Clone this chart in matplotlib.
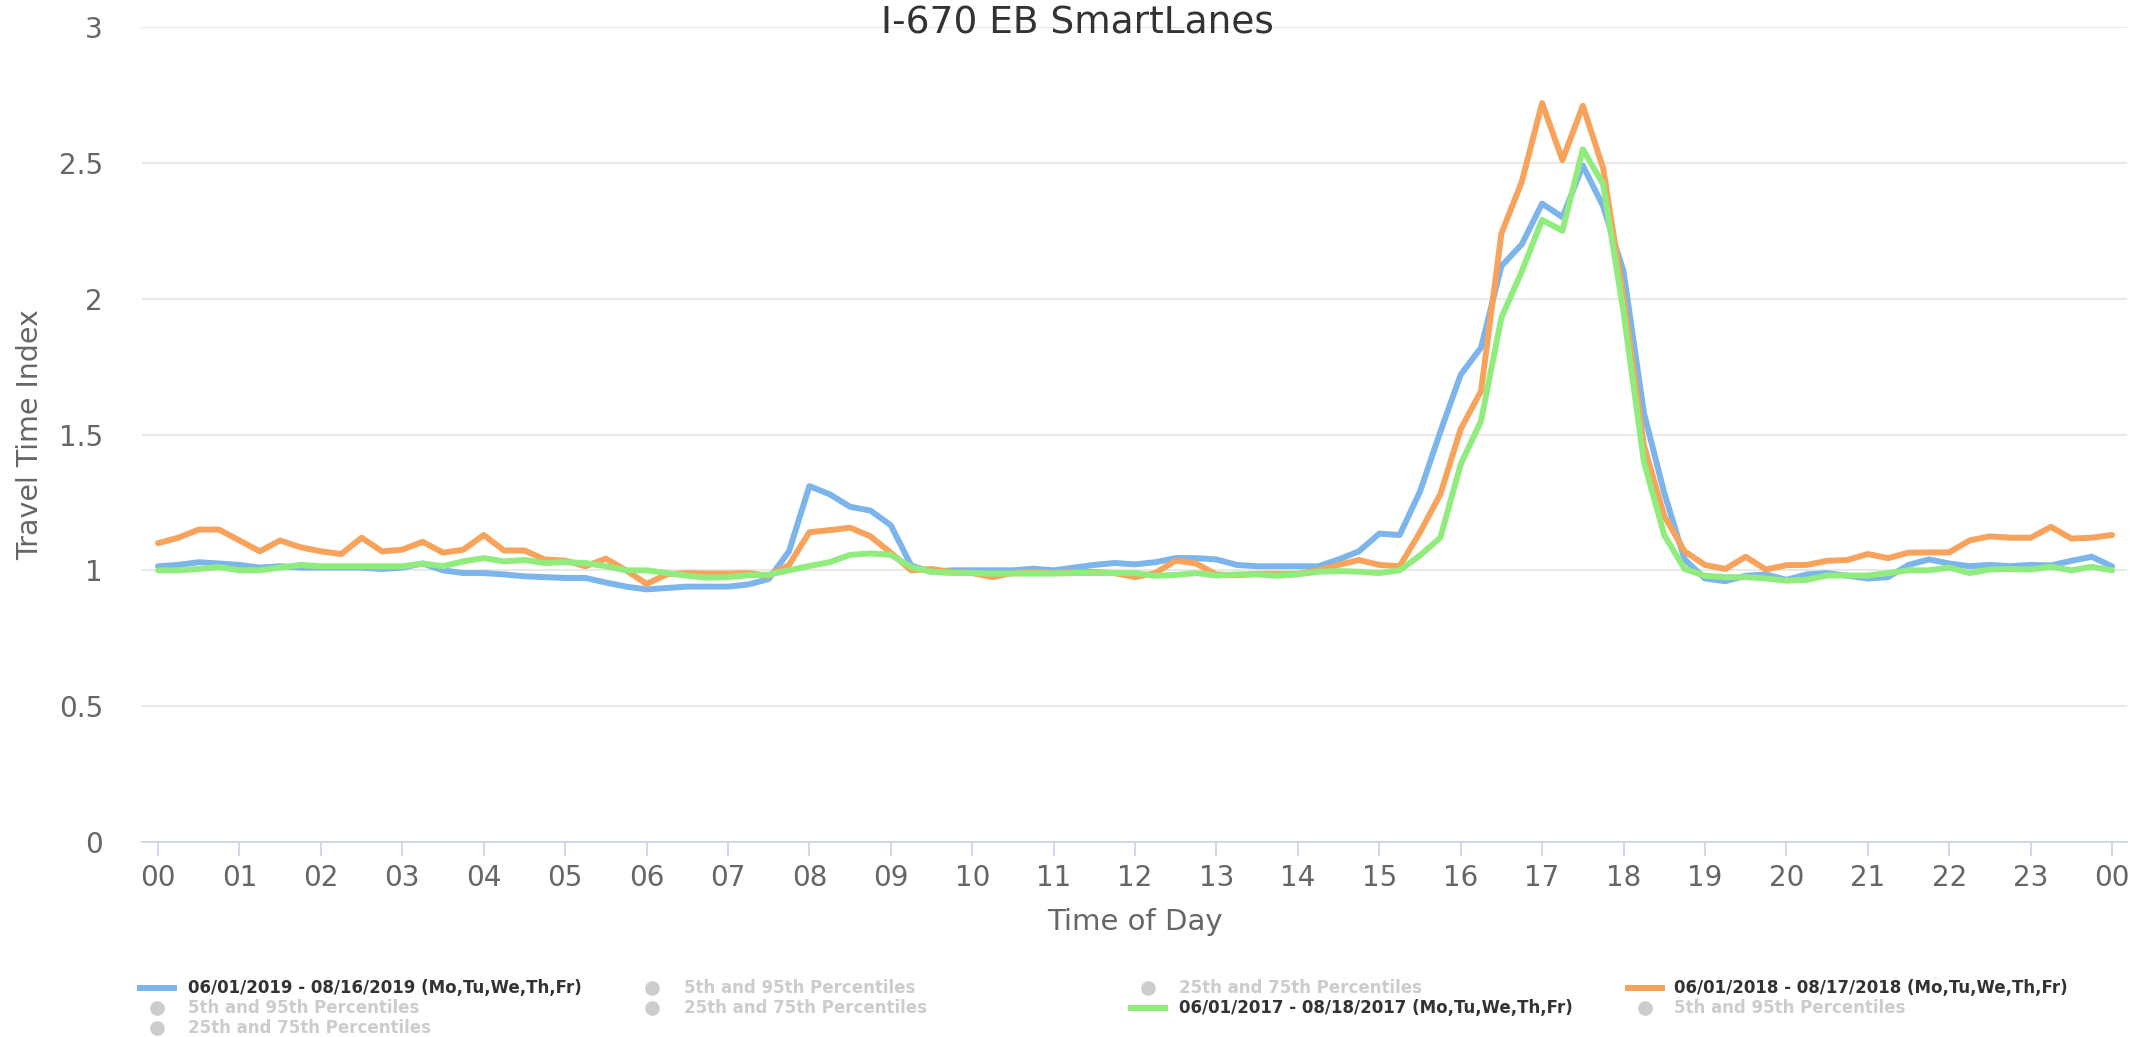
#!/usr/bin/env python3
import numpy as np
import matplotlib
matplotlib.use("Agg")
import matplotlib.pyplot as plt
from matplotlib.lines import Line2D

# Travel Time Index every 15 minutes, 00:00 .. 24:00
hours = np.arange(97) * 0.25

tti_2019 = [
    1.015, 1.02, 1.03, 1.025, 1.02, 1.01, 1.015, 1.01, 1.01, 1.01, 1.01, 1.005,
    1.01, 1.025, 1.0, 0.99, 0.99, 0.985, 0.978, 0.975, 0.972, 0.972, 0.955, 0.94,
    0.93, 0.935, 0.94, 0.94, 0.94, 0.948, 0.968, 1.07, 1.31, 1.28, 1.234, 1.22,
    1.166, 1.018, 0.994, 1.0, 1.0, 1.0, 1.0, 1.006, 1.0, 1.01, 1.02, 1.027,
    1.022, 1.03, 1.045, 1.045, 1.04, 1.02, 1.015, 1.015, 1.015, 1.015, 1.04, 1.07,
    1.135, 1.13, 1.29, 1.51, 1.72, 1.82, 2.12, 2.2, 2.35, 2.3, 2.49, 2.34,
    2.1, 1.58, 1.285, 1.04, 0.97, 0.96, 0.98, 0.985, 0.965, 0.985, 0.99, 0.98,
    0.97, 0.975, 1.02, 1.04, 1.025, 1.015, 1.02, 1.015, 1.02, 1.018, 1.035, 1.05,
    1.015,
]

tti_2018 = [
    1.10, 1.12, 1.15, 1.15, 1.11, 1.07, 1.11, 1.085, 1.07, 1.06, 1.12, 1.07,
    1.076, 1.105, 1.065, 1.076, 1.13, 1.073, 1.073, 1.04, 1.036, 1.015, 1.043, 1.0,
    0.95, 0.985, 0.99, 0.988, 0.988, 0.99, 0.98, 1.02, 1.14, 1.148, 1.157, 1.125,
    1.065, 1.0, 1.005, 0.994, 0.99, 0.975, 0.99, 0.994, 0.99, 0.994, 0.994, 0.99,
    0.975, 0.99, 1.036, 1.025, 0.985, 0.982, 0.987, 0.987, 0.987, 1.0, 1.02, 1.038,
    1.02, 1.015, 1.14, 1.28, 1.52, 1.66, 2.24, 2.43, 2.72, 2.51, 2.71, 2.48,
    2.0, 1.46, 1.2, 1.07, 1.02, 1.005, 1.05, 1.003, 1.019, 1.02, 1.035, 1.038,
    1.06, 1.045, 1.065, 1.066, 1.066, 1.11, 1.125, 1.12, 1.12, 1.16, 1.117, 1.12,
    1.13,
]

tti_2017 = [
    1.0, 1.0, 1.005, 1.012, 1.0, 1.0, 1.01, 1.02, 1.015, 1.015, 1.015, 1.015,
    1.015, 1.025, 1.015, 1.033, 1.045, 1.033, 1.038, 1.027, 1.03, 1.027, 1.015, 1.0,
    1.0, 0.99, 0.98, 0.973, 0.975, 0.982, 0.984, 1.0, 1.016, 1.03, 1.057, 1.062,
    1.057, 1.012, 0.995, 0.99, 0.99, 0.988, 0.988, 0.988, 0.988, 0.99, 0.99, 0.99,
    0.99, 0.98, 0.983, 0.99, 0.981, 0.985, 0.985, 0.98, 0.985, 0.995, 0.997, 0.995,
    0.99, 1.0, 1.055, 1.12, 1.39, 1.55, 1.93, 2.1, 2.29, 2.25, 2.55, 2.42,
    1.95, 1.4, 1.13, 1.005, 0.98, 0.975, 0.975, 0.97, 0.962, 0.965, 0.981, 0.981,
    0.981, 0.99, 1.0, 1.0, 1.01, 0.99, 1.003, 1.005, 1.003, 1.013, 1.0, 1.013,
    1.0,
]

hour_labels = ["%02d" % h for h in range(24)] + ["00"]
y_ticks = [0, 0.5, 1, 1.5, 2, 2.5, 3]
y_tick_labels = ["0", "0.5", "1", "1.5", "2", "2.5", "3"]

label_2019 = "06/01/2019 - 08/16/2019 (Mo,Tu,We,Th,Fr)"
label_2018 = "06/01/2018 - 08/17/2018 (Mo,Tu,We,Th,Fr)"
label_2017 = "06/01/2017 - 08/18/2017 (Mo,Tu,We,Th,Fr)"
p95 = "5th and 95th Percentiles"
p75 = "25th and 75th Percentiles"

BLUE = "#7cb5ec"
ORANGE = "#f7a35c"
GREEN = "#90ed7d"

plt.rcParams["font.family"] = ["DejaVu Sans"]

W, H = 2155, 1037
fig = plt.figure(figsize=(W / 100, H / 100), dpi=100)
left, right, top, bottom = 142, 2127, 27, 842
ax = fig.add_axes([left / W, 1 - bottom / H, (right - left) / W, (bottom - top) / H])

for values, color in [(tti_2019, BLUE), (tti_2018, ORANGE), (tti_2017, GREEN)]:
    ax.plot(hours, values, color=color, lw=4.3, solid_joinstyle="round",
            solid_capstyle="round")

ax.set_xlim(-0.197, 24.184)
ax.set_ylim(0, 3)

ax.set_xticks(range(25))
ax.set_xticklabels(hour_labels)
ax.set_yticks(y_ticks)
ax.set_yticklabels(y_tick_labels)

ax.grid(axis="y", color="#e6e6e6", lw=1.3)
ax.set_axisbelow(True)
for s in ["top", "right", "left"]:
    ax.spines[s].set_visible(False)
ax.spines["bottom"].set_color("#ccd6eb")
ax.spines["bottom"].set_linewidth(1.3)

ax.tick_params(axis="x", colors="#ccd6eb", length=10, width=1.3, pad=6,
               labelsize=20, labelcolor="#666666")
ax.tick_params(axis="y", length=0, pad=28, labelsize=20, labelcolor="#666666")

ax.set_xlabel("Time of Day", fontsize=21, color="#666666", va="center")
ax.xaxis.set_label_coords(0.5, (bottom - 922) / (bottom - top))
ax.set_ylabel("Travel Time Index", fontsize=20.5, color="#666666", va="center")
ax.yaxis.set_label_coords((30 - left) / (right - left), 0.5)

fig.text(1077 / W, 1 - 23 / H, "I-670 EB SmartLanes", ha="center", va="center",
         fontsize=27, color="#333333")

# legend, laid out as in the original (4 columns, wrapping rows)
col_sym = [157, 652, 1148, 1645]
col_txt = [188, 684, 1179, 1674]
row_y = [988, 1008, 1028]
items = [
    (0, 0, BLUE, label_2019), (1, 0, None, p95), (2, 0, None, p75), (3, 0, ORANGE, label_2018),
    (0, 1, None, p95), (1, 1, None, p75), (2, 1, GREEN, label_2017), (3, 1, None, p95),
    (0, 2, None, p75),
]
for col, row, color, text in items:
    yc = 1 - row_y[row] / H
    xs = col_sym[col]
    if color:
        fig.add_artist(Line2D([(xs - 17) / W, (xs + 17) / W], [yc, yc], color=color,
                              lw=4.3, transform=fig.transFigure))
        tcolor = "#333333"
    else:
        fig.add_artist(Line2D([xs / W], [yc], marker="o", markersize=9.5, color="#cccccc",
                              lw=0, transform=fig.transFigure))
        tcolor = "#cccccc"
    fig.text(col_txt[col] / W, yc, text, ha="left", va="center", fontsize=12,
             fontweight="bold", color=tcolor)

fig.savefig("out.png", dpi=100)
